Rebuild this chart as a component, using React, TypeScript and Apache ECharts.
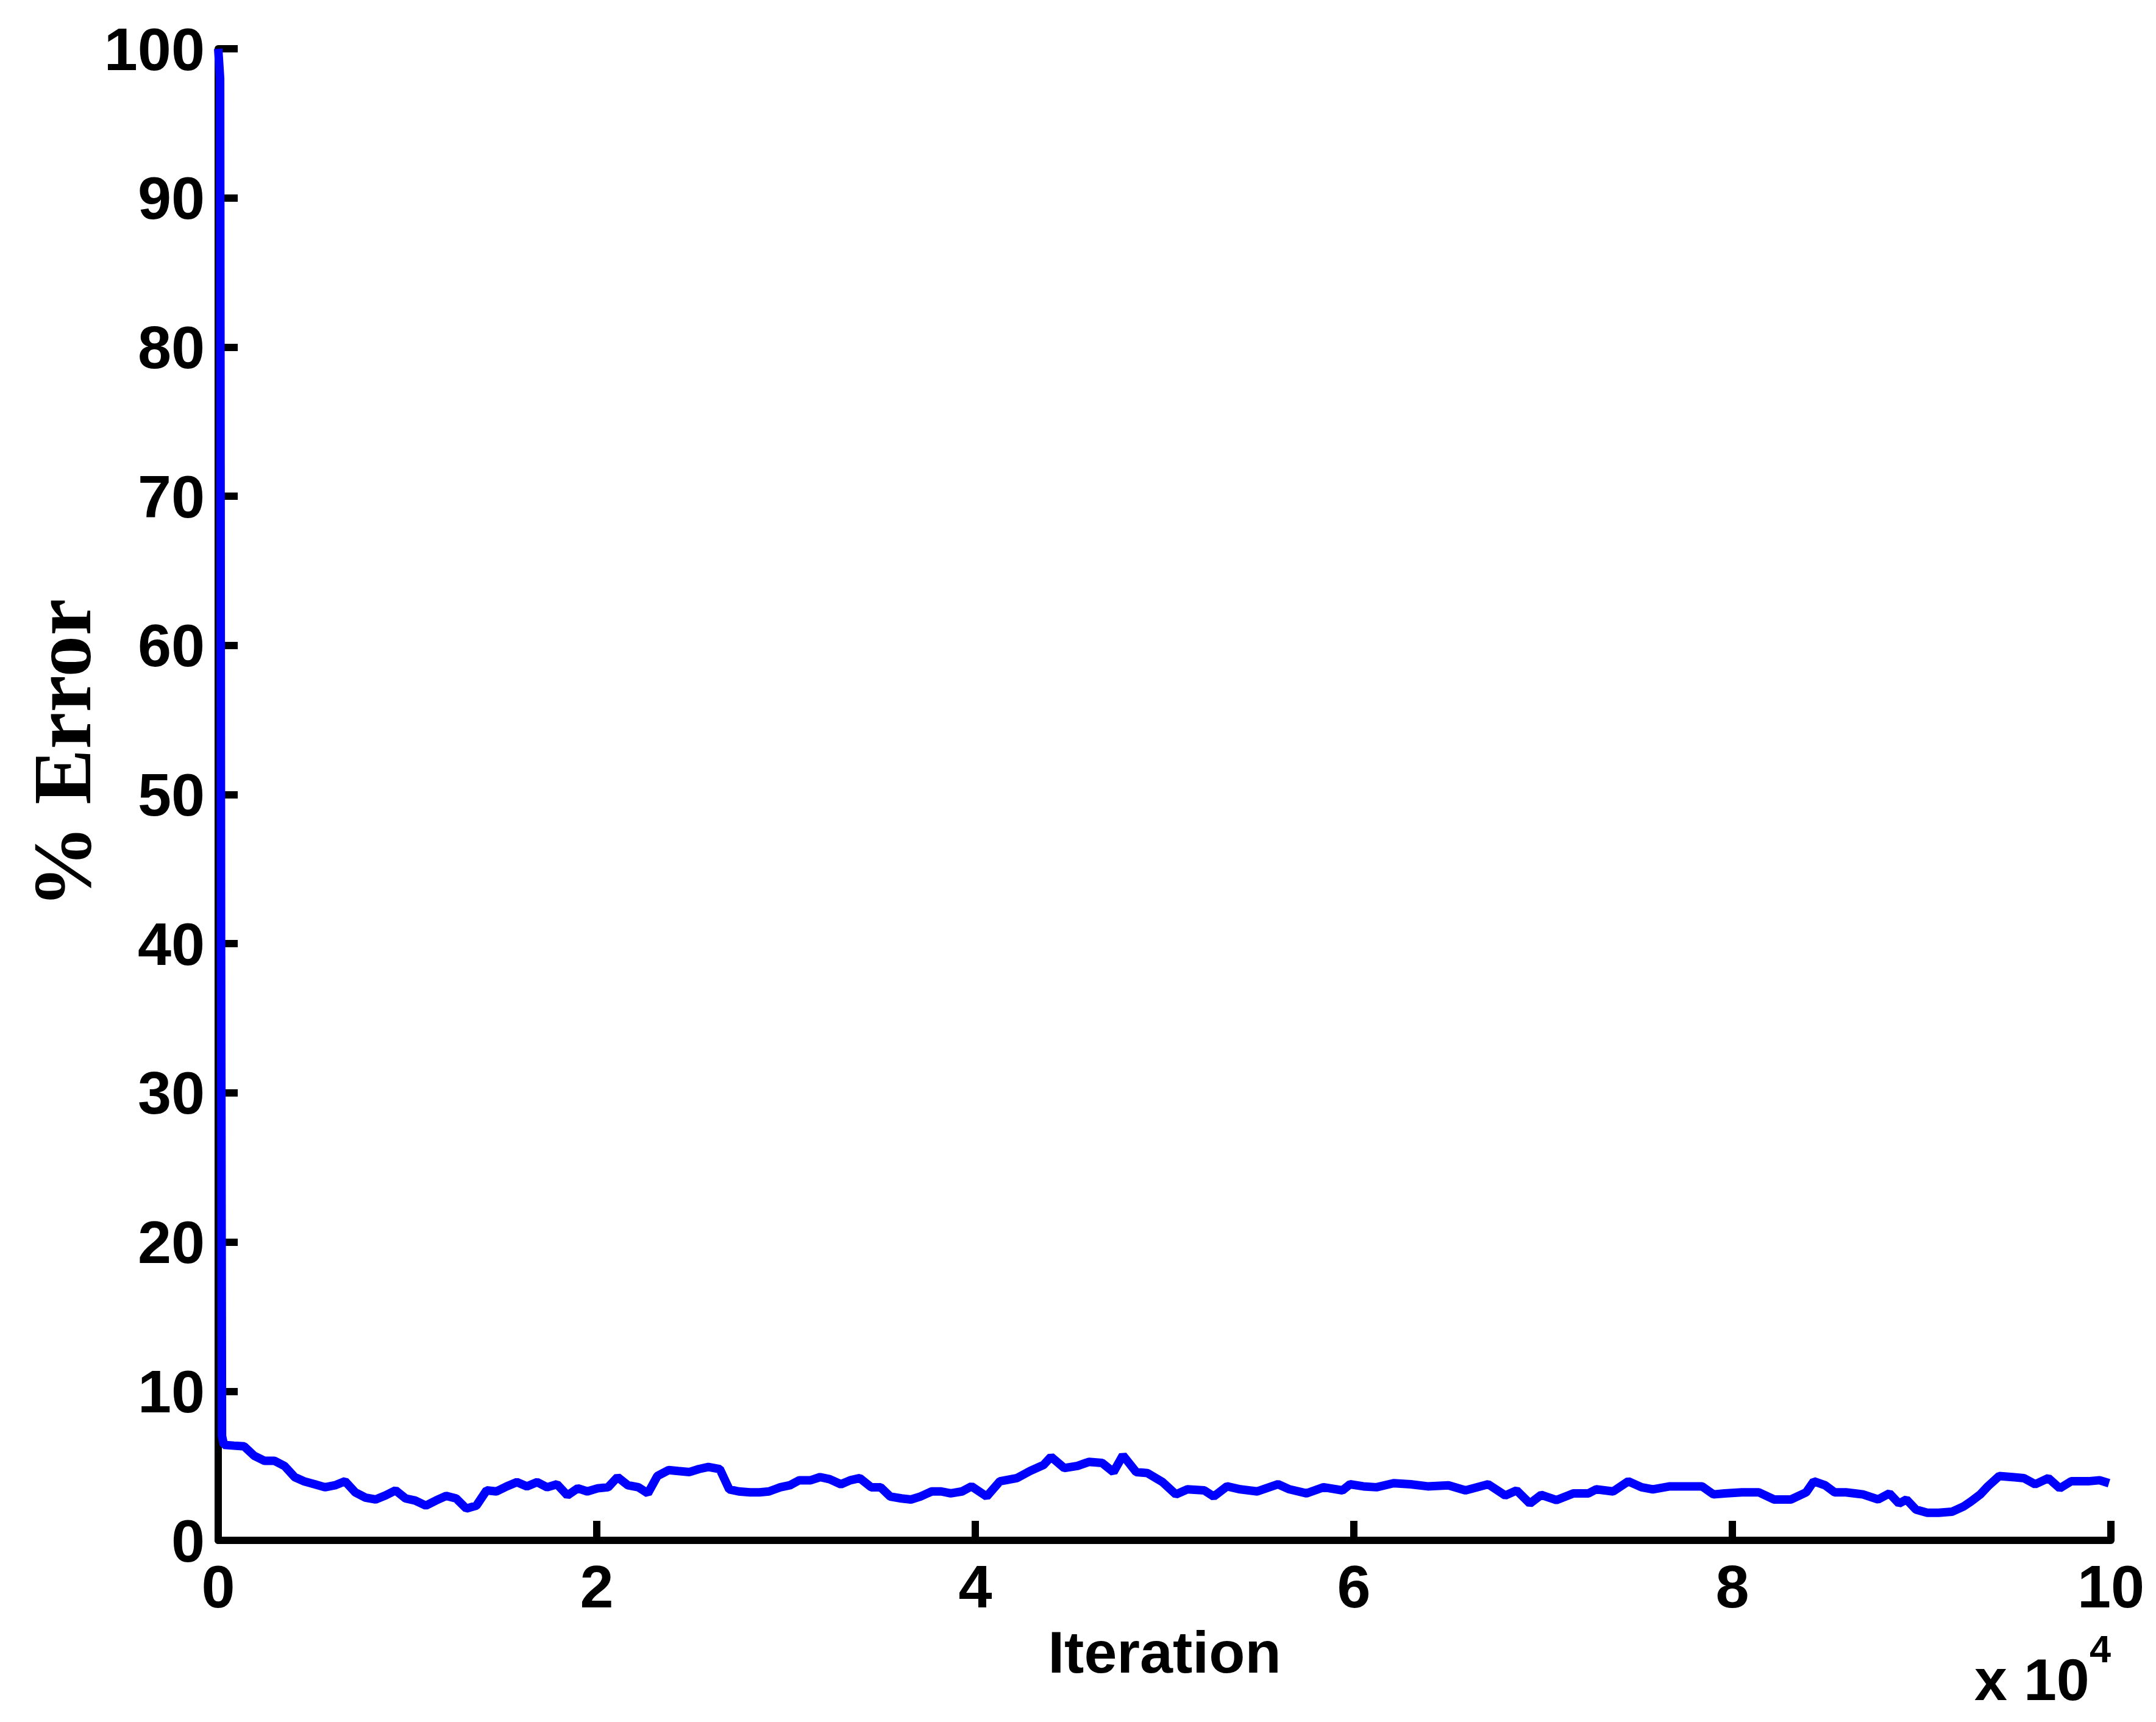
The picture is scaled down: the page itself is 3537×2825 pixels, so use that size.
import React, { useEffect, useRef } from "react";
import * as echarts from "echarts";

// Iteration number (raw) and % error
const iterations: number[] = [
  0, 100, 150, 200, 300, 830, 1370, 1900, 2440, 2970, 3500, 4040, 4570, 5100, 5640, 6170, 6700,
  7240, 7770, 8310, 8840, 9370, 9900, 10400, 10970, 11500, 12040, 12570, 13110, 13640, 14180,
  14700, 15240, 15780, 16310, 16850, 17380, 17900, 18450, 19000, 19500, 20050, 20600, 21100,
  21650, 22200, 22700, 23200, 23800, 24300, 24900, 25400, 25900, 26500, 27000, 27500, 28100,
  28600, 29100, 29700, 30200, 30700, 31300, 31800, 32300, 32900, 33400, 33900, 34500, 35000,
  35500, 36100, 36600, 37100, 37700, 38200, 38700, 39300, 39800, 40600, 41300, 42200, 42900,
  43600, 44000, 44700, 45400, 46000, 46700, 47300, 47800, 48500, 49100, 49900, 50600, 51200,
  52100, 52600, 53300, 54000, 54900, 56000, 56600, 57500, 58400, 59400, 59800, 60500, 61200,
  62100, 63000, 63900, 65000, 65900, 67100, 68000, 68600, 69300, 69900, 70700, 71600, 72400,
  72800, 73700, 74500, 75200, 75800, 76700, 77500, 78400, 79000, 79600, 80500, 81400, 82200,
  83100, 83900, 84300, 84900, 85400, 86000, 86900, 87700, 88300, 88800, 89200, 89700, 90300,
  90900, 91600, 92200, 92600, 93100, 93500, 94100, 94800, 95400, 96000, 96700, 97300, 97900,
  98800, 99400, 99900,
];

const errorPct: number[] = [
  100, 98, 40, 7.0, 6.4, 6.35, 6.3, 5.67, 5.33, 5.33, 4.99, 4.24, 3.94, 3.76, 3.56, 3.69, 3.96,
  3.22, 2.87, 2.74, 3.01, 3.35, 2.81, 2.67, 2.33, 2.67, 2.98, 2.81, 2.13, 2.33, 3.35,
  3.28, 3.62, 3.9, 3.62, 3.9, 3.56, 3.76, 3.01, 3.49, 3.28, 3.49, 3.56, 4.24,
  3.69, 3.56, 3.15, 4.31, 4.71, 4.65, 4.58, 4.78, 4.92, 4.78, 3.42, 3.28, 3.22,
  3.22, 3.28, 3.56, 3.69, 4.03, 4.03, 4.24, 4.1, 3.76, 4.03, 4.17, 3.56, 3.56,
  2.94, 2.81, 2.74, 2.94, 3.28, 3.28, 3.15, 3.28, 3.62, 2.94, 3.96, 4.17, 4.65,
  5.05, 5.6, 4.85, 4.99, 5.26, 5.19, 4.58, 5.7, 4.58, 4.51, 3.9, 3.08, 3.42,
  3.35, 2.94, 3.62, 3.42, 3.28, 3.76, 3.42, 3.15, 3.56, 3.35, 3.76, 3.62, 3.56,
  3.83, 3.76, 3.62, 3.69, 3.35, 3.76, 3.01, 3.35, 2.47, 3.05, 2.7, 3.15, 3.15,
  3.42, 3.28, 3.96, 3.56, 3.42, 3.62, 3.62, 3.62, 3.08, 3.15, 3.22, 3.22, 2.74,
  2.74, 3.22, 3.96, 3.69, 3.22, 3.22, 3.08, 2.74, 3.15, 2.47, 2.74, 2.06, 1.85,
  1.85, 1.92, 2.26, 2.6, 3.08, 3.62, 4.31, 4.24, 4.17, 3.76, 4.17, 3.49, 3.96,
  3.96, 4.03, 3.83,
];

const xTickScale = 10000; // axis shown in units of 10^4
const yLabel = "% Error";
const xLabel = "Iteration";

export default function App() {
  const ref = useRef<HTMLDivElement>(null);

  useEffect(() => {
    if (!ref.current) return;
    const chart = echarts.init(ref.current, undefined, { renderer: "svg" });
    const sans = "Liberation Sans";
    const data = iterations.map((x, i) => [x, errorPct[i]]);
    chart.setOption({
      animation: false,
      backgroundColor: "#ffffff",
      grid: { left: 358, right: 74, top: 80, bottom: 298, containLabel: false },
      xAxis: {
        type: "value",
        min: 0,
        max: 100000,
        interval: 20000,
        name: xLabel,
        nameLocation: "middle",
        nameGap: 135,
        nameTextStyle: { fontSize: 97, fontWeight: "bold", fontFamily: sans, color: "#000" },
        axisLine: { show: true, lineStyle: { color: "#000", width: 12 } },
        axisTick: { show: true, inside: true, length: 32, lineStyle: { color: "#000", width: 12 } },
        axisLabel: {
          formatter: (v: number) => String(v / xTickScale),
          fontSize: 99,
          fontWeight: "bold",
          fontFamily: sans,
          color: "#000",
          margin: 26,
          showMinLabel: true,
          showMaxLabel: true,
        },
        splitLine: { show: false },
      },
      yAxis: {
        type: "value",
        min: 0,
        max: 100,
        interval: 10,
        axisLine: { show: true, lineStyle: { color: "#000", width: 12 } },
        axisTick: { show: true, inside: true, length: 32, lineStyle: { color: "#000", width: 12 } },
        axisLabel: {
          fontSize: 99,
          fontWeight: "bold",
          fontFamily: sans,
          color: "#000",
          margin: 22,
          showMinLabel: true,
          showMaxLabel: true,
        },
        splitLine: { show: false },
      },
      graphic: [
        {
          type: "text",
          x: 102,
          y: 1236,
          rotation: Math.PI / 2,
          style: {
            text: yLabel,
            fontSize: 136,
            fontWeight: "bold",
            fontFamily: "Liberation Serif",
            fill: "#000",
            align: "center",
            verticalAlign: "middle",
          },
        },
        {
          type: "text",
          x: 3239,
          y: 2755,
          style: {
            text: "x 10",
            fontSize: 97,
            fontWeight: "bold",
            fontFamily: sans,
            fill: "#000",
            align: "left",
            verticalAlign: "middle",
          },
        },
        {
          type: "text",
          x: 3428,
          y: 2705,
          style: {
            text: "4",
            fontSize: 63,
            fontWeight: "bold",
            fontFamily: sans,
            fill: "#000",
            align: "left",
            verticalAlign: "middle",
          },
        },
      ],
      series: [
        {
          type: "line",
          data,
          showSymbol: false,
          symbol: "none",
          lineStyle: { color: "#0000ff", width: 14 },
          clip: false,
          z: 1,
        },
      ],
    });
    return () => chart.dispose();
  }, []);

  return (
    <div
      ref={ref}
      style={{ position: "absolute", left: 0, top: 0, width: 3537, height: 2825, background: "#fff" }}
    />
  );
}
